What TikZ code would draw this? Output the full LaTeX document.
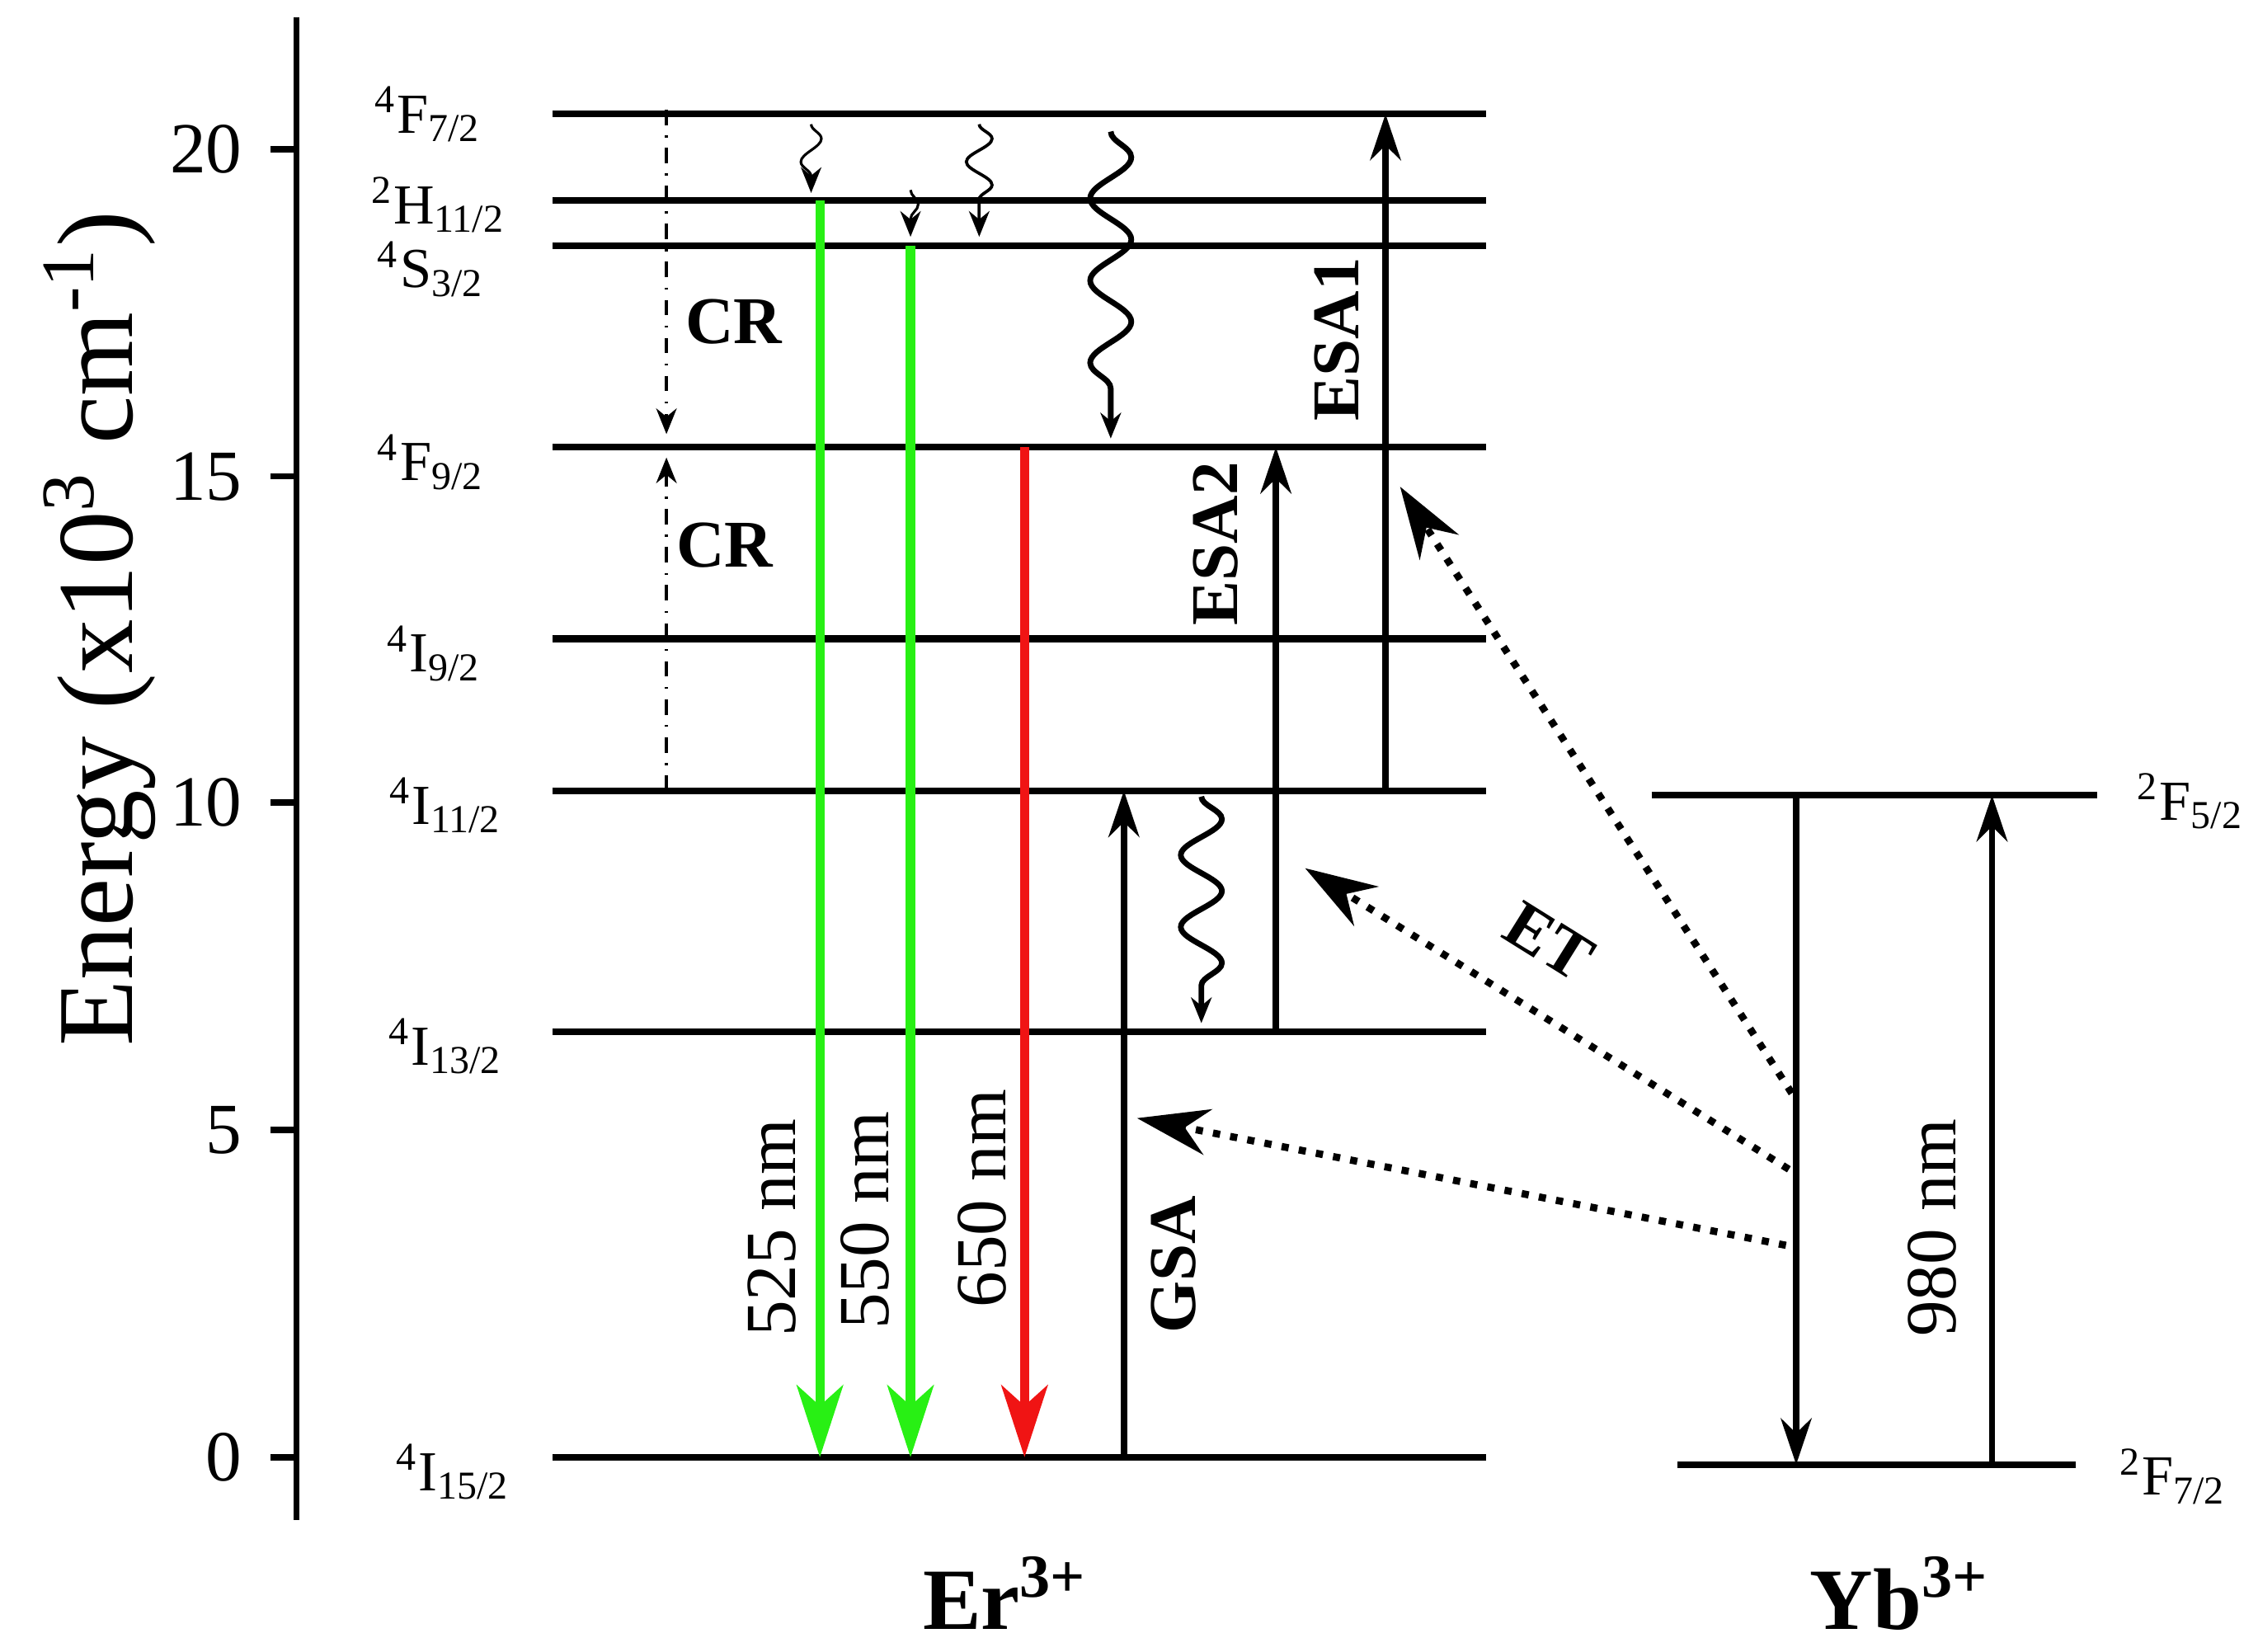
\documentclass[tikz,border=0pt]{standalone}
\usepackage{fontspec}
\setmainfont{Liberation Serif}
\usetikzlibrary{arrows.meta,decorations.pathmorphing}
\newcommand{\lv}[3]{\textsuperscript{#1}#2\textsubscript{#3}}
\begin{document}
\begin{tikzpicture}[x=0.01cm,y=-0.01cm,
 lvl/.style={line width=1.3pt},
 lab/.style={font=\fontsize{11}{12}\selectfont},
 up/.style={line width=1.2pt,-{Stealth[length=9pt,width=6pt]}},
 emit/.style={line width=1.8pt,-{Stealth[length=14pt,width=9pt,inset=4pt]}},
 et/.style={line width=1.4pt,dotted,-{Stealth[length=14pt,width=9pt]}},
 wavy/.style={-{Stealth[length=5pt,width=4pt]},decorate,decoration={snake,amplitude=#1,segment length=9pt,post length=3pt}},
 tag/.style={font=\fontsize{13}{15}\selectfont\bfseries},
 tick/.style={font=\fontsize{14}{15}\selectfont,anchor=east}]
\useasboundingbox (0,0) rectangle (1545,1130);
% axis
\draw[line width=1.2pt] (203,12) -- (203,1040);
\foreach \v/\yy in {0/997,5/773,10/549,15/326,20/102}{
  \draw[line width=1.2pt] (185,\yy) -- (203,\yy);
  \node[tick] at (178,\yy) {\v};}
\node[rotate=90,font=\fontsize{21}{24}\selectfont] at (68,430) {Energy (x10\textsuperscript{3} cm\textsuperscript{-1})};
% Er levels
\foreach \n/\yy in {a/78,b/137,c/168,d/306,e/437,f/541,g/706,h/997}{
  \coordinate (L\n) at (378,\yy); \coordinate (R\n) at (1017,\yy);
  \draw[lvl] (L\n) -- (R\n);}
\node[lab] (ta) at (293,78) {\lv{4}{F}{7/2}};
\node[lab] (tb) at (300,140) {\lv{2}{H}{11/2}};
\node[lab] (tc) at (295,184) {\lv{4}{S}{3/2}};
\node[lab] (td) at (295,316) {\lv{4}{F}{9/2}};
\node[lab] (te) at (297,447) {\lv{4}{I}{9/2}};
\node[lab] (tf) at (305,551) {\lv{4}{I}{11/2}};
\node[lab] (tg) at (305,716) {\lv{4}{I}{13/2}};
\node[lab] (th) at (310,1007) {\lv{4}{I}{15/2}};
% Yb levels
\coordinate (Y1a) at (1130,544); \coordinate (Y1b) at (1435,544);
\coordinate (Y0a) at (1148,1002); \coordinate (Y0b) at (1420,1002);
\draw[lvl] (Y1a) -- (Y1b); \draw[lvl] (Y0a) -- (Y0b);
\node[lab,anchor=west] (t5) at (1450,548) {\lv{2}{F}{5/2}};
\node[lab,anchor=west] (t7) at (1438,1010) {\lv{2}{F}{7/2}};
% CR
\coordinate (cr1) at (456,75); \coordinate (cr2) at (456,297);
\coordinate (cr3) at (456,541); \coordinate (cr4) at (456,313);
\draw[dash dot,line width=0.6pt,-{Stealth[length=5pt,width=4pt]}] (cr1) -- (cr2);
\draw[dash dot,line width=0.6pt,-{Stealth[length=5pt,width=4pt]}] (cr3) -- (cr4);
\node[tag] (cra) at (502,220) {CR};
\node[tag] (crb) at (496,373) {CR};
% emissions
\coordinate (g1t) at (561,137); \coordinate (g1b) at (561,997);
\coordinate (g2t) at (623,168); \coordinate (g2b) at (623,997);
\coordinate (r1t) at (701,306); \coordinate (r1b) at (701,997);
\draw[emit,color={rgb,255:red,40;green,240;blue,20}] (g1t) -- (g1b);
\draw[emit,color={rgb,255:red,40;green,240;blue,20}] (g2t) -- (g2b);
\draw[emit,color={rgb,255:red,240;green,20;blue,20}] (r1t) -- (r1b);
\node[rotate=90,font=\fontsize{14}{15}\selectfont] (n1) at (528,840) {525 nm};
\node[rotate=90,font=\fontsize{14}{15}\selectfont] (n2) at (592,835) {550 nm};
\node[rotate=90,font=\fontsize{14}{15}\selectfont] (n3) at (672,820) {650 nm};
% absorptions
\coordinate (gsa0) at (769,997); \coordinate (gsa1) at (769,541);
\coordinate (esa20) at (873,706); \coordinate (esa21) at (873,306);
\coordinate (esa10) at (948,541); \coordinate (esa11) at (948,78);
\draw[up] (gsa0) -- (gsa1);
\draw[up] (esa20) -- (esa21);
\draw[up] (esa10) -- (esa11);
\node[tag,rotate=90] (tgsa) at (803,865) {GSA};
\node[tag,rotate=90] (tesa2) at (832,372) {ESA2};
\node[tag,rotate=90] (tesa1) at (915,232) {ESA1};
% nonradiative
\draw[line width=0.5pt,wavy=2pt] (555,85) -- (555,132);
\draw[line width=0.5pt,wavy=1.5pt] (623,130) -- (623,162);
\draw[line width=0.6pt,wavy=2.5pt] (670,85) -- (670,162);
\draw[line width=1.1pt,wavy=4pt,decoration={segment length=16pt}] (760,90) -- (760,300);
\draw[line width=1.1pt,wavy=4pt,decoration={segment length=14pt}] (822,545) -- (822,700);
% Yb transitions
\coordinate (yd0) at (1229,544); \coordinate (yd1) at (1229,1002);
\coordinate (yu0) at (1363,1002); \coordinate (yu1) at (1363,544);
\draw[up] (yd0) -- (yd1);
\draw[up] (yu0) -- (yu1);
\node[rotate=90,font=\fontsize{14}{15}\selectfont] (n4) at (1322,840) {980 nm};
% ET
\coordinate (e1s) at (1226,748); \coordinate (e1e) at (958,333);
\coordinate (e2s) at (1224,800); \coordinate (e2e) at (893,594);
\coordinate (e3s) at (1222,852); \coordinate (e3e) at (778,765);
\draw[et] (e1s) -- (e1e);
\draw[et] (e2s) -- (e2e);
\draw[et] (e3s) -- (e3e);
\node[tag,rotate=-32] (tet) at (1060,644) {ET};
% species
\node[font=\fontsize{17}{20}\selectfont\bfseries] (er) at (688,1090) {Er\textsuperscript{3+}};
\node[font=\fontsize{17}{20}\selectfont\bfseries] (yb) at (1300,1090) {Yb\textsuperscript{3+}};
\end{tikzpicture}
\end{document}
